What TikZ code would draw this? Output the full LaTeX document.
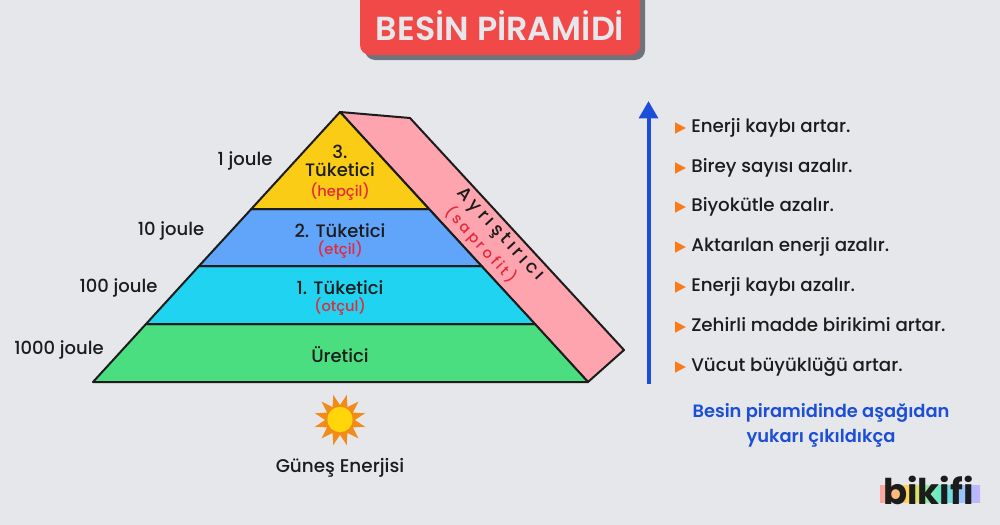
\documentclass[tikz,border=0pt]{standalone}
\usepackage{fontspec}
\setmainfont{Poppins}
\newfontfamily\medfont{Poppins Medium}
\newfontfamily\semifont{Poppins SemiBold}
\usetikzlibrary{arrows.meta,shapes.geometric}
\definecolor{pagebg}{HTML}{E5E7EB}
\definecolor{titlered}{HTML}{F14848}
\definecolor{titleshadow}{HTML}{6F747C}
\definecolor{inkblack}{HTML}{1C1C1C}
\definecolor{levelyellow}{HTML}{FACC15}
\definecolor{levelblue}{HTML}{60A5FA}
\definecolor{levelcyan}{HTML}{20D3F0}
\definecolor{levelgreen}{HTML}{4ADE80}
\definecolor{decomppink}{HTML}{FDA4AF}
\definecolor{labelred}{HTML}{E5283A}
\definecolor{arrowblue}{HTML}{1D4ED8}
\definecolor{bulletorange}{HTML}{FB7A18}
\definecolor{sunorange}{HTML}{F28C18}
\definecolor{sunyellow}{HTML}{FFD60A}
\tikzset{
  level/.style={draw=inkblack,line width=1.5pt,line join=round},
  name label/.style={font=\medfont\fontsize{13.5pt}{15pt}\selectfont,text=inkblack,inner sep=0pt},
  sub label/.style={font=\medfont\fontsize{11pt}{13pt}\selectfont,text=labelred,inner sep=0pt},
  joule label/.style={name label},
  fact/.style={font=\medfont\fontsize{13.7pt}{15pt}\selectfont,text=inkblack,inner sep=0pt,anchor=west,text height=10pt,text depth=3pt},
  bullet/.style={isosceles triangle,isosceles triangle stretches,fill=bulletorange,
    minimum width=8.5pt,minimum height=8pt,inner sep=0pt},
}
\begin{document}
\begin{tikzpicture}[x=0.75pt,y=-0.75pt]
\fill[pagebg] (0,0) rectangle (1000,525);
\useasboundingbox (0,0) rectangle (1000,525);

% title
\fill[titleshadow,rounded corners=7.5pt] (365,-20) rectangle (645,60);
\node[fill=titlered,rounded corners=7.5pt,minimum width=210pt,minimum height=75pt,inner sep=0pt] (titlebox) at (500,5) {};
\node[font=\semifont\fontsize{25pt}{28pt}\selectfont,text=pagebg,inner sep=0pt] (title) at (500,26) {BESİN PİRAMİDİ};

\coordinate (apex) at (340,112);
\coordinate (baseL) at (93,382);
\coordinate (baseR) at (588,382);
\coordinate (l3L) at (251.3,209);
\coordinate (l3R) at (429,209);
\coordinate (l2L) at (199,266);
\coordinate (l2R) at (481.5,266);
\coordinate (l1L) at (146,324);
\coordinate (l1R) at (535,324);

% decomposers band first, levels on top
\draw[level,fill=decomppink] (apex) -- (410,118) -- (624,350) -- (baseR) -- cycle;
\draw[level,fill=levelgreen] (l1L) -- (l1R) -- (baseR) -- (baseL) -- cycle;
\draw[level,fill=levelcyan] (l2L) -- (l2R) -- (l1R) -- (l1L) -- cycle;
\draw[level,fill=levelblue] (l3L) -- (l3R) -- (l2R) -- (l2L) -- cycle;
\draw[level,fill=levelyellow] (apex) -- (l3R) -- (l3L) -- cycle;

\node[name label,align=center] (third) at (340,161) {3.\\[-1pt]Tüketici};
\node[sub label] (hepcil) at (340,191.5) {(hepçil)};
\node[name label] (second) at (340,231) {2. Tüketici};
\node[sub label] (etcil) at (340,249.5) {(etçil)};
\node[name label] (first) at (340,288) {1. Tüketici};
\node[sub label] (otcul) at (340,307) {(otçul)};
\node[name label] (producer) at (340,355) {Üretici};

\node[name label,rotate=-47.3] (decomp) at (500,235) {\addfontfeature{LetterSpace=20}Ayrıştırıcı};
\node[sub label,rotate=-47.3] (saprofit) at (481,245) {\addfontfeature{LetterSpace=20}(saprofit)};

\node[joule label] (j1) at (245,161) {1 joule};
\node[joule label] (j10) at (171,231) {10 joule};
\node[joule label] (j100) at (118.5,288) {100 joule};
\node[joule label] (j1000) at (59,350) {1000 joule};

% sun
\node[star,star points=12,star point ratio=1.75,shape border rotate=15,fill=sunorange,minimum size=39pt,inner sep=0pt] (sunrays) at (340,420) {};
\node[circle,fill=sunyellow,minimum size=19pt,inner sep=0pt] (sun) at (340,419.5) {};
\node[name label,font=\medfont\fontsize{13.8pt}{15pt}\selectfont] (sunlabel) at (340,468) {Güneş Enerjisi};

% arrow
\coordinate (arrowstart) at (648.5,384);
\coordinate (arrowend) at (648.5,101);
\draw[arrowblue,line width=3pt,-{Triangle[length=13pt,width=14pt]}] (arrowstart) -- (arrowend);

\foreach [count=\i] \txt/\ypos in {Enerji kaybı artar./128,Birey sayısı azalır./168,Biyokütle azalır./207,
  Aktarılan enerji azalır./247,Enerji kaybı azalır./287,Zehirli madde birikimi artar./327,Vücut büyüklüğü artar./367} {
  \node[bullet] (b\i) at (678.5,\ypos) {};
  \node[fact] (f\i) at (691,\ypos) {\txt};
}

\node[font=\semifont\fontsize{13.4pt}{18.7pt}\selectfont,text=arrowblue,align=center,inner sep=0pt] (summary) at (821,425.5) {Besin piramidinde aşağıdan\\yukarı çıkıldıkça};

% logo
\foreach \xa/\xb/\ca/\cb in {880/896/FCA5A5/FDBA74,896/912/FDBA74/FDE047,912/928/FDE047/86EFAC,928/944/86EFAC/5EEAD4,944/960/5EEAD4/93C5FD,960/980/93C5FD/C4B5FD} {
  \definecolor{ca}{HTML}{\ca}
  \definecolor{cb}{HTML}{\cb}
  \shade[left color=ca,right color=cb] (\xa,485) rectangle (\xb,502);
}
\node[font=\fontsize{26.6pt}{28pt}\selectfont\bfseries,text=inkblack,inner sep=0pt] (logo) at (928.5,490) {bikifi};
\end{tikzpicture}
\end{document}
